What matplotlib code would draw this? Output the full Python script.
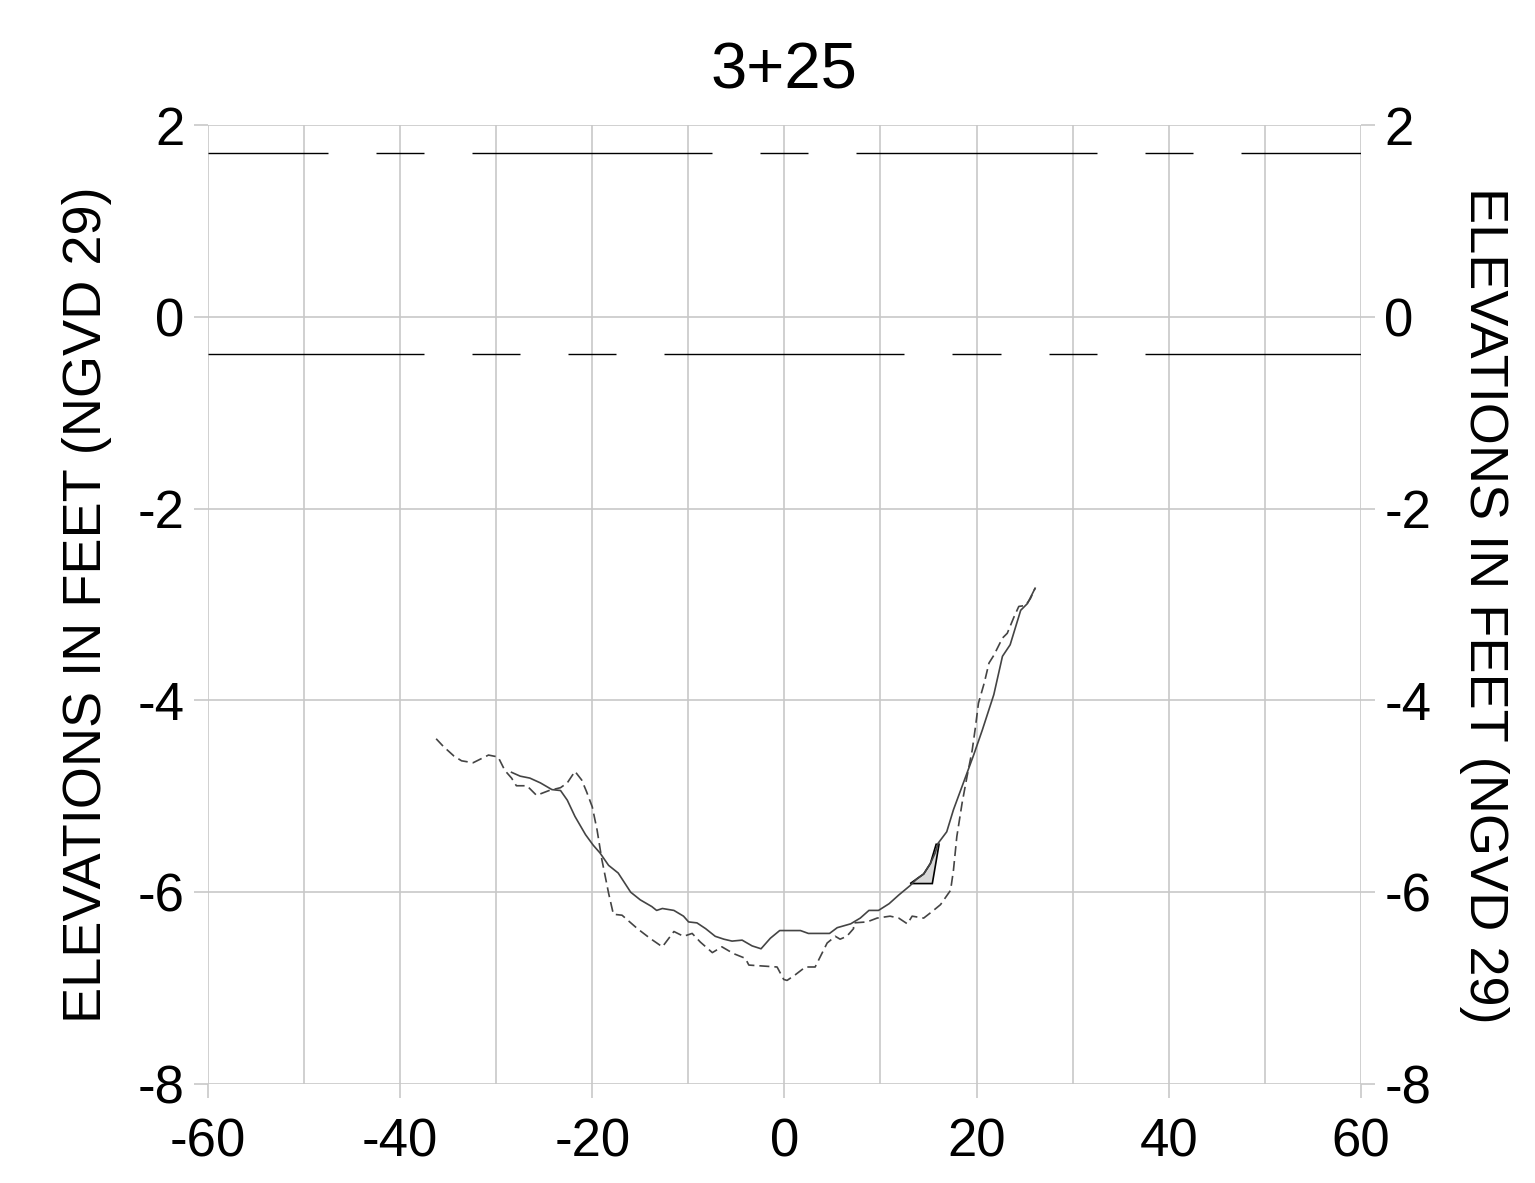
import numpy as np
import matplotlib
matplotlib.use('Agg')
import matplotlib.pyplot as plt

plt.rcParams['font.family'] = ['Liberation Sans', 'DejaVu Sans']
plt.rcParams['axes.unicode_minus'] = False

# survey 1 (dashed)
x_dash = [-36.25, -35.5, -34.4, -33.6, -32.4, -30.8, -29.8, -29.1, -28.4, -27.9,
          -26.8, -25.8, -24.5, -23.3, -22.6, -21.8, -21.1, -20.6, -20.0, -19.5,
          -19.0, -18.3, -17.8, -16.9, -15.3, -14.0, -12.7, -11.5, -10.5, -9.6,
          -8.75, -7.5, -6.5, -5.3, -4.06, -3.7, -0.76, -0.07, 0.28, 1.15,
          2.19, 3.2, 3.75, 4.45, 5.3, 5.8, 6.5, 7.2, 7.2, 8.6,
          9.65, 11.0, 11.9, 12.8, 13.3, 14.5, 15.4, 16.25, 17.3, 17.6,
          17.95, 18.5, 19.0, 19.55, 19.9, 20.2, 20.4, 20.8, 21.3, 21.8,
          22.7, 23.2, 23.9, 24.4, 25.1, 25.6, 26.1]
y_dash = [-4.40, -4.48, -4.58, -4.63, -4.65, -4.57, -4.59, -4.73, -4.81, -4.89,
          -4.89, -4.99, -4.94, -4.91, -4.86, -4.74, -4.83, -4.95, -5.11, -5.35,
          -5.66, -6.01, -6.23, -6.24, -6.38, -6.48, -6.57, -6.41, -6.46, -6.43,
          -6.52, -6.63, -6.57, -6.64, -6.69, -6.76, -6.78, -6.91, -6.92, -6.86,
          -6.78, -6.78, -6.67, -6.53, -6.46, -6.49, -6.46, -6.38, -6.32, -6.31,
          -6.27, -6.25, -6.27, -6.33, -6.25, -6.27, -6.20, -6.13, -5.98, -5.77,
          -5.42, -5.07, -4.80, -4.52, -4.27, -4.03, -3.96, -3.82, -3.61, -3.53,
          -3.35, -3.30, -3.13, -3.02, -3.01, -2.94, -2.83]

# survey 2 (solid)
x_solid = [-28.4, -27.5, -26.5, -25.4, -24.2, -23.3, -22.6, -21.8, -20.7, -19.9,
           -19.2, -18.3, -17.3, -16.0, -15.0, -13.8, -13.3, -12.7, -11.5, -10.5,
           -9.97, -9.1, -8.2, -7.2, -6.3, -5.45, -4.4, -3.36, -2.43, -1.46,
           -0.49, 1.67, 2.5, 4.7, 5.5, 6.9, 7.9, 8.8, 9.8, 10.9,
           11.9, 13.1, 13.8, 14.5, 15.2, 15.7, 16.0, 16.9, 17.6, 18.3,
           19.7, 20.6, 21.8, 22.7, 23.5, 24.6, 25.3, 26.1]
y_solid = [-4.75, -4.79, -4.81, -4.86, -4.93, -4.94, -5.04, -5.21, -5.40, -5.51,
           -5.59, -5.72, -5.80, -6.00, -6.08, -6.15, -6.19, -6.17, -6.19, -6.25,
           -6.31, -6.32, -6.38, -6.46, -6.49, -6.51, -6.50, -6.56, -6.59, -6.48,
           -6.40, -6.40, -6.43, -6.43, -6.37, -6.33, -6.27, -6.19, -6.19, -6.12,
           -6.03, -5.93, -5.86, -5.81, -5.70, -5.59, -5.49, -5.37, -5.14, -4.95,
           -4.57, -4.31, -3.94, -3.54, -3.42, -3.06, -2.99, -2.83]

# small shaded area
x_patch = [13.1, 15.4, 16.1, 15.8, 15.2, 14.5, 13.8, 13.1]
y_patch = [-5.91, -5.91, -5.50, -5.50, -5.70, -5.81, -5.86, -5.91]

# reference elevations
ref_levels = [1.71, -0.39]
ref_patterns = [[25, 5, 5, 5], [25, 5, 5, 5, 5, 5]]   # on/off lengths in feet
ref_starts = [-72.5, -62.5]

fig = plt.figure(figsize=(15.35, 11.83), dpi=100)
ax = fig.add_axes([0.1355, 0.0837, 0.751, 0.8106])

for lvl, pat, start in zip(ref_levels, ref_patterns, ref_starts):
    pos = start
    i = 0
    while pos < 60:
        seg = pat[i % len(pat)]
        if i % 2 == 0:
            a, b = max(pos, -60), min(pos + seg, 60)
            if b > a:
                ax.plot([a, b], [lvl, lvl], color='black', lw=1.0, solid_capstyle='butt')
        pos += seg
        i += 1

ax.plot(x_dash, y_dash, color='#444444', lw=1.2, ls=(0, (6, 3)))
ax.plot(x_solid, y_solid, color='#444444', lw=1.2)
ax.fill(x_patch, y_patch, facecolor='#d9d9d9', edgecolor='black', lw=1.2)

ax.set_xlim(-60, 60)
ax.set_ylim(-8, 2)
ax.set_xticks(np.arange(-60, 61, 20))
ax.set_xticks(np.arange(-60, 61, 10), minor=True)
ax.set_yticks(np.arange(-8, 3, 2))
ax.grid(True, which='both', color='#c8c8c8', lw=1.2)
for s in ax.spines.values():
    s.set_visible(False)
ax.tick_params(axis='both', which='both', colors='#c8c8c8', labelcolor='black',
               labelsize=38, length=10, width=1.2)
ax.tick_params(axis='y', pad=7)
ax.tick_params(axis='x', pad=14)
ax.tick_params(axis='x', which='minor', length=0)
ax.tick_params(axis='y', right=True, labelright=True)

ax.set_ylabel('ELEVATIONS IN FEET (NGVD 29)', fontsize=39, labelpad=18)
fig.text(0.967, 0.488, 'ELEVATIONS IN FEET (NGVD 29)', fontsize=39,
         rotation=270, ha='center', va='center')
ax.set_title('3+25', fontsize=47, pad=26)

fig.savefig('out.png', dpi=100)
